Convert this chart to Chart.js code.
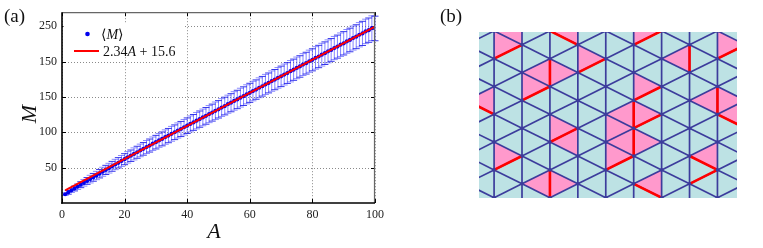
<!DOCTYPE html>
<html>
<head>
<meta charset="utf-8">
<script src="https://cdn.jsdelivr.net/npm/chart.js@4.4.1/dist/chart.umd.min.js"></script>
<style>
  body { margin: 0; background: #fff; width: 763px; height: 248px; overflow: hidden; position: relative; }
  canvas { position: absolute; top: 0; }
</style>
</head>
<body>
<canvas id="grafico_a" width="400" height="248" style="left:0"></canvas>
<canvas id="grafico_b" width="323" height="248" style="left:440px"></canvas>
<script>
// ---- painel (a): <M> contra A ----
const valoresA = [1,2,3,4,5,6,7,8,9,10,11,12,13,14,15,16,17,18,19,20,21,22,23,24,25,26,27,28,29,30,
  31,32,33,34,35,36,37,38,39,40,41,42,43,44,45,46,47,48,49,50,51,52,53,54,55,56,57,58,59,60,
  61,62,63,64,65,66,67,68,69,70,71,72,73,74,75,76,77,78,79,80,81,82,83,84,85,86,87,88,89,90,
  91,92,93,94,95,96,97,98,99,100]
const mediaM = [12.4,15.1,17.9,20.5,23.2,25.9,28.6,31.2,33.8,36.3,38.9,41.5,44.2,46.8,49.3,51.9,54.5,56.9,59.5,62.0,
  64.6,66.9,69.5,71.8,74.4,76.6,79.2,81.3,83.9,86.1,88.6,90.7,93.3,95.4,97.9,100.1,102.6,104.7,107.2,109.4,
  111.9,114.0,116.5,118.7,121.1,123.3,125.8,127.9,130.5,132.6,135.1,137.2,139.8,141.9,144.4,146.5,149.1,151.2,153.8,155.9,
  158.4,160.5,163.1,165.2,167.8,169.9,172.5,174.6,177.1,179.2,181.8,183.9,186.5,188.6,191.2,193.2,195.9,197.9,200.6,202.6,
  205.3,207.3,209.9,212.0,214.6,216.6,219.3,221.3,224.0,226.0,228.7,230.7,233.4,235.3,238.1,240.0,242.8,244.6,247.4,247.0]
const erroM = [1.8,2.6,3.0,3.4,4.0,4.2,4.7,4.8,5.4,5.5,5.9,6.0,6.4,6.5,6.9,7.0,7.3,7.3,7.7,7.8,
  8.1,8.1,8.5,8.5,8.9,8.9,9.2,9.2,9.5,9.6,9.8,9.8,10.2,10.1,10.5,10.4,10.7,10.7,11.0,11.0,
  11.3,11.2,11.6,11.5,11.8,11.8,12.1,12.0,12.4,12.3,12.6,12.5,12.8,12.8,13.1,13.0,13.3,13.2,13.5,13.5,
  13.8,13.7,14.0,13.9,14.2,14.1,14.4,14.3,14.6,14.5,14.8,14.7,15.1,15.0,15.3,15.2,15.5,15.4,15.7,15.6,
  15.9,15.8,16.1,16.0,16.2,16.1,16.4,16.3,16.6,16.5,16.8,16.7,17.0,16.9,17.2,17.1,17.3,17.2,17.5,17.4]
const ajusteA = [1, 100]
const ajusteM = [17.94, 249.6]
const ticksX = [0, 20, 40, 60, 80, 100]
const ticksY = [50, 100, 150, 200, 250]
const rotulosY = ['50', '100', '150', '150', '250']

const serif = "'Liberation Serif', 'DejaVu Serif', serif"

function linha(ctx, x1, y1, x2, y2) {
  ctx.beginPath()
  ctx.moveTo(x1, y1)
  ctx.lineTo(x2, y2)
  ctx.stroke()
}

const decoracaoA = {
  id: 'decoracaoA',
  beforeDatasetsDraw(chart) {
    const { ctx, chartArea: ca, scales: { x, y } } = chart
    ctx.save()
    // grade pontilhada
    ctx.strokeStyle = '#8a8a8a'
    ctx.lineWidth = 1
    ctx.setLineDash([1, 2])
    ticksX.forEach(v => {
      const px = Math.round(x.getPixelForValue(v)) + 0.5
      linha(ctx, px, ca.top, px, ca.bottom)
    })
    ticksY.forEach(v => {
      const py = Math.round(y.getPixelForValue(v)) + 0.5
      linha(ctx, ca.left, py, ca.right, py)
    })
    ctx.setLineDash([])
    // marcas para dentro
    ctx.strokeStyle = '#000'
    ticksX.forEach(v => {
      const px = Math.round(x.getPixelForValue(v)) + 0.5
      linha(ctx, px, ca.bottom, px, ca.bottom - 4)
      linha(ctx, px, ca.top, px, ca.top + 4)
    })
    ticksY.forEach(v => {
      const py = Math.round(y.getPixelForValue(v)) + 0.5
      linha(ctx, ca.left, py, ca.left + 4, py)
      linha(ctx, ca.right, py, ca.right - 4, py)
    })
    // fundo branco da legenda
    ctx.fillStyle = '#fff'
    ctx.fillRect(ca.left + 1.5, 24, 120, 33)
    // barras de erro
    ctx.lineWidth = 1
    valoresA.forEach((a, i) => {
      const px = x.getPixelForValue(a)
      const top = y.getPixelForValue(mediaM[i] + erroM[i])
      const bot = y.getPixelForValue(mediaM[i] - erroM[i])
      ctx.strokeStyle = 'rgba(50, 50, 255, 0.6)'
      linha(ctx, px, top, px, bot)
      ctx.strokeStyle = i % 2 ? 'rgba(20, 20, 230, 0.85)' : 'rgba(60, 60, 255, 0.6)'
      linha(ctx, px - 3.5, top, px + 3.5, top)
      linha(ctx, px - 3.5, bot, px + 3.5, bot)
    })
    ctx.restore()
  },
  afterDraw(chart) {
    const { ctx, chartArea: ca } = chart
    ctx.save()
    // caixa
    ctx.strokeStyle = '#666'
    ctx.lineWidth = 1.2
    linha(ctx, ca.left, ca.top + 0.5, ca.right, ca.top + 0.5)
    linha(ctx, ca.right - 0.5, ca.top, ca.right - 0.5, ca.bottom)
    ctx.strokeStyle = '#000'
    ctx.lineWidth = 1.6
    linha(ctx, ca.left, ca.top, ca.left, ca.bottom + 0.8)
    linha(ctx, ca.left - 0.8, ca.bottom, ca.right, ca.bottom)

    // legenda
    ctx.fillStyle = '#0000ee'
    ctx.beginPath()
    ctx.arc(87.5, 34, 2.3, 0, Math.PI * 2)
    ctx.fill()
    ctx.strokeStyle = '#ff0000'
    ctx.lineWidth = 2
    linha(ctx, 74, 51, 99, 51)

    ctx.fillStyle = '#111'
    ctx.textBaseline = 'alphabetic'
    ctx.textAlign = 'left'
    let cx = 101
    ctx.font = '14px ' + serif
    ctx.fillText('\u27E8', cx, 39); cx += ctx.measureText('\u27E8').width
    ctx.font = 'italic 14px ' + serif
    ctx.fillText('M', cx, 39); cx += ctx.measureText('M').width
    ctx.font = '14px ' + serif
    ctx.fillText('\u27E9', cx, 39)

    cx = 103
    ctx.font = '14px ' + serif
    ctx.fillText('2.34', cx, 55.5); cx += ctx.measureText('2.34').width
    ctx.font = 'italic 14px ' + serif
    ctx.fillText('A', cx, 55.5); cx += ctx.measureText('A').width
    ctx.font = '14px ' + serif
    ctx.fillText(' + 15.6', cx, 55.5)

    // titulo do painel e dos eixos
    ctx.font = '19px ' + serif
    ctx.fillText('(a)', 4, 22)
    ctx.font = 'italic 22px ' + serif
    ctx.textAlign = 'center'
    ctx.fillText('A', 214, 238)
    ctx.translate(36, 114)
    ctx.rotate(-Math.PI / 2)
    ctx.textBaseline = 'middle'
    ctx.fillText('M', 0, -6)
    ctx.restore()
  }
}

new Chart(document.getElementById('grafico_a'), {
  type: 'scatter',
  data: {
    datasets: [{
      label: '\u27E8M\u27E9',
      data: valoresA.map((a, i) => ({ x: a, y: mediaM[i] })),
      pointRadius: 2.1,
      pointBorderWidth: 0,
      backgroundColor: '#0000ee',
      order: 2
    }, {
      type: 'line',
      label: '2.34A + 15.6',
      data: ajusteA.map((a, i) => ({ x: a, y: ajusteM[i] })),
      borderColor: '#ff0000',
      borderWidth: 2,
      pointRadius: 0,
      order: 1
    }]
  },
  options: {
    responsive: false,
    animation: false,
    devicePixelRatio: 1,
    layout: { padding: { left: 0, right: 25, top: 8, bottom: 0 } },
    plugins: { legend: { display: false }, tooltip: { enabled: false } },
    scales: {
      x: {
        type: 'linear',
        min: 0,
        max: 100,
        afterBuildTicks: s => { s.ticks = ticksX.map(v => ({ value: v })) },
        afterFit: s => { s.height = 45 },
        grid: { display: false, drawTicks: false },
        border: { display: false },
        ticks: { padding: 5, color: '#222', font: { family: serif, size: 12 } }
      },
      y: {
        type: 'linear',
        min: 0,
        max: 270,
        afterBuildTicks: s => { s.ticks = ticksY.map(v => ({ value: v })) },
        afterFit: s => { s.width = 62 },
        grid: { display: false, drawTicks: false },
        border: { display: false },
        ticks: {
          padding: 5,
          color: '#222',
          font: { family: serif, size: 12 },
          callback: v => rotulosY[ticksY.indexOf(v)]
        }
      }
    }
  },
  plugins: [decoracaoA]
})

// ---- painel (b): rede triangular ----
const colunas = [-1, 0, 1, 2, 3, 4, 5, 6, 7, 8, 9]
const linhas = [-2, -1, 0, 1, 2, 3, 4, 5, 6, 7, 8, 9, 10, 11, 12, 13, 14]
// triangulos rosa: [coluna, linha do vertice]
const rosaDireita = [[0,1],[1,4],[2,3],[3,2],[5,0],[8,1],[5,4],[8,5],[2,7],[0,9],[2,11],[4,9],[4,7],[5,6],[5,8]]
const rosaEsquerda = [[0,0],[1,3],[2,0],[6,2],[-1,5],[4,6],[7,5],[8,6],[2,8],[1,11],[4,8],[5,11],[7,9]]
// ligacoes vermelhas: [c1, r1, c2, r2]
const ligacoesVermelhas = [[0,2,1,1],[2,0,3,1],[2,2,2,4],[1,5,2,4],[3,3,4,2],[5,1,6,0],[7,1,7,3],[8,2,9,1],
  [-1,5,0,6],[5,5,6,4],[5,5,5,7],[5,7,5,9],[5,7,6,6],[4,10,5,9],[7,9,8,10],[7,11,8,10],
  [2,8,3,7],[0,10,1,9],[2,10,2,12],[8,4,8,6],[8,6,9,7],[5,11,6,12]]

const nos = []
colunas.forEach(c => linhas.forEach(r => {
  if (Math.abs(r - c) % 2 === 0) nos.push({ x: c, y: r })
}))

const desenhoRede = {
  id: 'desenhoRede',
  beforeDatasetsDraw(chart) {
    const { ctx, chartArea: ca, scales: { x, y } } = chart
    const px = c => x.getPixelForValue(c)
    const py = r => y.getPixelForValue(r)
    ctx.save()
    ctx.beginPath()
    ctx.rect(ca.left, ca.top, ca.right - ca.left, ca.bottom - ca.top)
    ctx.clip()
    ctx.fillStyle = '#bde2e4'
    ctx.fillRect(ca.left, ca.top, ca.right - ca.left, ca.bottom - ca.top)

    const triangulo = pts => {
      ctx.beginPath()
      pts.forEach(([c, r], i) => i ? ctx.lineTo(px(c), py(r)) : ctx.moveTo(px(c), py(r)))
      ctx.closePath()
      ctx.fill()
    }
    ctx.fillStyle = '#ff99cc'
    rosaDireita.forEach(([c, r]) => triangulo([[c, r - 1], [c, r + 1], [c + 1, r]]))
    rosaEsquerda.forEach(([c, r]) => triangulo([[c + 1, r - 1], [c + 1, r + 1], [c, r]]))

    ctx.strokeStyle = '#3c3c9c'
    ctx.lineWidth = 1.7
    nos.forEach(n => {
      linha(ctx, px(n.x), py(n.y), px(n.x), py(n.y + 2))
      linha(ctx, px(n.x), py(n.y), px(n.x + 1), py(n.y + 1))
      linha(ctx, px(n.x), py(n.y), px(n.x + 1), py(n.y - 1))
    })

    ctx.strokeStyle = '#ff0000'
    ctx.lineWidth = 2.6
    ligacoesVermelhas.forEach(([c1, r1, c2, r2]) => linha(ctx, px(c1), py(r1), px(c2), py(r2)))
    ctx.restore()
  },
  afterDraw(chart) {
    const { ctx } = chart
    ctx.save()
    ctx.fillStyle = '#111'
    ctx.font = '19px ' + serif
    ctx.fillText('(b)', 0, 22)
    ctx.restore()
  }
}

new Chart(document.getElementById('grafico_b'), {
  type: 'scatter',
  data: {
    datasets: [{
      data: nos,
      pointRadius: 1.8,
      pointBorderWidth: 0,
      backgroundColor: '#3c3c9c'
    }]
  },
  options: {
    responsive: false,
    animation: false,
    devicePixelRatio: 1,
    layout: { padding: { left: 39, right: 26, top: 32, bottom: 50 } },
    plugins: { legend: { display: false }, tooltip: { enabled: false } },
    scales: {
      x: { display: false, min: -0.54, max: 8.70 },
      y: { display: false, min: 0.08, max: 12.02, reverse: true }
    }
  },
  plugins: [desenhoRede]
})
</script>
</body>
</html>
